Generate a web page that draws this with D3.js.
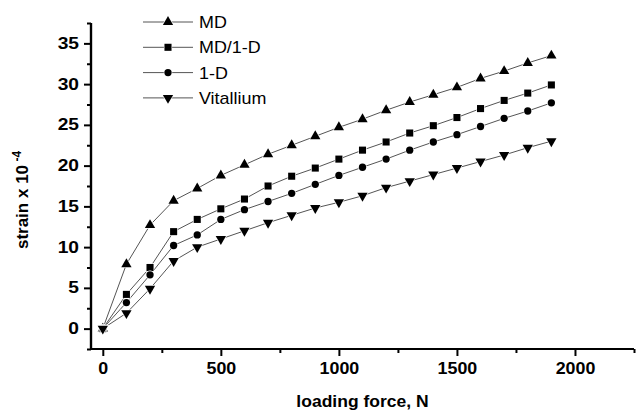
<!DOCTYPE html>
<html><head><meta charset="utf-8">
<script src="https://cdn.jsdelivr.net/npm/d3@7"></script>
<style>body{margin:0;background:#fff}svg{display:block}text{font-family:"Liberation Sans",Arial,sans-serif}</style>
</head><body><svg id="c" width="636" height="410"></svg>
<script>
const force = [0,100,200,300,400,500,600,700,800,900,1000,1100,1200,1300,1400,1500,1600,1700,1800,1900];
const seriesNames = ["MD","MD/1-D","1-D","Vitallium"];
const mdVals = [0,7.9,12.7,15.7,17.2,18.8,20.1,21.4,22.5,23.6,24.7,25.7,26.8,27.8,28.7,29.6,30.7,31.6,32.6,33.5];
const md1dVals = [0,4.2,7.5,11.9,13.4,14.7,15.9,17.5,18.7,19.7,20.8,21.9,22.9,24.0,24.9,25.9,27.0,28.0,28.9,29.9];
const oneDVals = [0,3.2,6.6,10.2,11.5,13.4,14.6,15.6,16.6,17.7,18.8,19.8,20.8,21.9,22.9,23.8,24.8,25.8,26.7,27.7];
const vitVals = [0,1.9,4.9,8.3,10.0,11.0,12.0,13.0,13.9,14.8,15.5,16.3,17.3,18.1,18.9,19.7,20.5,21.3,22.2,23.0];
const xMajor = [0,500,1000,1500,2000];
const xMinor = [250,750,1250,1750,2250];
const yMajor = [0,5,10,15,20,25,30,35];
const yMinor = [-2.5,2.5,7.5,12.5,17.5,22.5,27.5,32.5,37.5];
const allVals = [mdVals, md1dVals, oneDVals, vitVals];
const symbols = [
  {type:d3.symbolTriangle, size:46, rot:0},
  {type:d3.symbolSquare, size:50, rot:0},
  {type:d3.symbolCircle, size:42, rot:0},
  {type:d3.symbolTriangle, size:46, rot:180}
];

const svg = d3.select("#c");
const x = d3.scaleLinear().domain([-50,2250]).range([91,634]);
const y = d3.scaleLinear().domain([-2.5,37.5]).range([349,23]);

const line = d3.line().x((d,i)=>x(force[i])).y(d=>y(d));
allVals.forEach((vals,k)=>{
  svg.append("path").attr("d", line(vals)).attr("fill","none").attr("stroke","#555").attr("stroke-width",1);
});
allVals.forEach((vals,k)=>{
  const s = symbols[k];
  const gen = d3.symbol().type(s.type).size(s.size);
  svg.selectAll(null).data(vals).enter().append("path")
    .attr("d", gen())
    .attr("transform",(d,i)=>`translate(${x(force[i])},${y(d)}) rotate(${s.rot})`)
    .attr("fill","#000").attr("stroke","#fff").attr("stroke-width",1.2).attr("paint-order","stroke");
});

const gx = svg.append("g").attr("transform","translate(0,349)");
gx.call(d3.axisBottom(x).tickValues(xMajor).tickSize(7).tickPadding(6).tickFormat(d3.format("d")));
gx.append("g").call(d3.axisBottom(x).tickValues(xMinor).tickSize(4).tickFormat(""));
gx.selectAll(".domain").attr("stroke-width",2.2).attr("d","M91,0H634");
gx.selectAll("line").attr("stroke-width",2);
gx.selectAll("text").attr("font-size",17).attr("font-weight","bold").attr("fill","#000").attr("transform","scale(1.05,1)");

const gy = svg.append("g").attr("transform","translate(91,0)");
gy.call(d3.axisLeft(y).tickValues(yMajor).tickSize(7).tickPadding(3).tickFormat(d3.format("d")));
gy.append("g").call(d3.axisLeft(y).tickValues(yMinor).tickSize(4).tickFormat(""));
gy.selectAll(".domain").attr("stroke-width",2.2).attr("d","M0,23V349");
gy.selectAll("line").attr("stroke-width",2);
gy.selectAll("text").attr("font-size",16).attr("font-weight","bold").attr("fill","#000").attr("transform","scale(1.2,1)");

svg.append("text").attr("transform",`translate(${(91+634)/2},407) scale(1.03,1)`).attr("text-anchor","middle")
  .attr("font-size",17).attr("font-weight","bold").text("loading force, N");
const yt = svg.append("text").attr("transform","translate(28,200) rotate(-90)").attr("text-anchor","middle")
  .attr("font-size",17).attr("font-weight","bold");
yt.append("tspan").text("strain x 10");
yt.append("tspan").attr("dy",-7).attr("font-size",12).text(" -4");

const lg = svg.append("g");
seriesNames.forEach((name,k)=>{
  const yy = 22 + k*25.3;
  lg.append("line").attr("x1",143).attr("x2",193).attr("y1",yy).attr("y2",yy).attr("stroke","#555").attr("stroke-width",1);
  const s = symbols[k];
  lg.append("path").attr("d", d3.symbol().type(s.type).size(s.size)())
    .attr("transform",`translate(168,${yy}) rotate(${s.rot})`)
    .attr("fill","#000").attr("stroke","#fff").attr("stroke-width",1.2).attr("paint-order","stroke");
  lg.append("text").attr("transform",`translate(199,${yy+6}) scale(1.12,1)`).attr("font-size",16).attr("fill","#000").text(name);
});
</script></body></html>
